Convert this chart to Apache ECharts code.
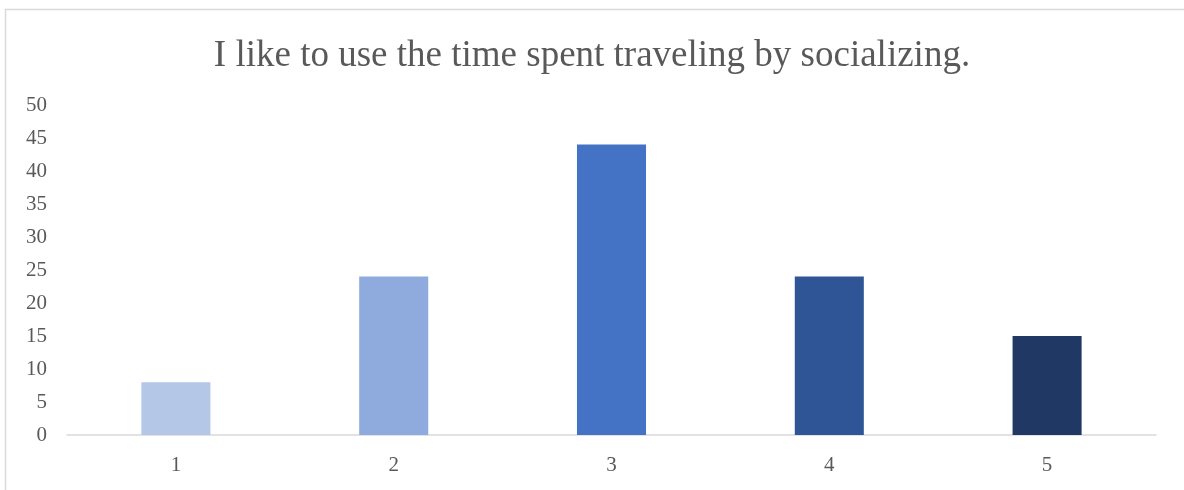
<!DOCTYPE html>
<html>
<head>
<meta charset="utf-8">
<style>
  html, body { margin: 0; padding: 0; background: #ffffff; }
  #chart { width: 1184px; height: 490px; }
</style>
<script src="https://cdn.jsdelivr.net/npm/echarts@6/dist/echarts.min.js"></script>
</head>
<body>
<div id="chart"></div>
<script>
// Survey responses on a 1–5 scale
const categories = ['1', '2', '3', '4', '5'];
const counts = [8, 24, 44, 24, 15];
const barColors = ['#B4C7E7', '#8FAADC', '#4472C4', '#2F5597', '#1F3864'];
const titleText = 'I like to use the time spent traveling by socializing.';

const chart = echarts.init(document.getElementById('chart'), null, { renderer: 'canvas' });

chart.setOption({
  animation: false,
  backgroundColor: '#ffffff',
  graphic: [{
    type: 'polyline',
    silent: true,
    shape: { points: [[5.5, 490], [5.5, 9.5], [1184, 9.5]] },
    style: { stroke: '#d9d9d9', lineWidth: 1.5, fill: null }
  }],
  title: {
    text: titleText,
    left: 'center',
    top: 33,
    textStyle: {
      fontFamily: 'Liberation Serif',
      fontSize: 37,
      fontWeight: 'normal',
      color: '#595959'
    }
  },
  grid: { left: 67, right: 28, top: 105, bottom: 55, containLabel: false },
  xAxis: {
    type: 'category',
    data: categories,
    axisLine: { lineStyle: { color: '#d9d9d9', width: 1.5 } },
    axisTick: { show: false },
    axisLabel: {
      fontFamily: 'Liberation Serif',
      fontSize: 21,
      color: '#595959',
      margin: 20
    }
  },
  yAxis: {
    type: 'value',
    min: 0,
    max: 50,
    interval: 5,
    axisLine: { show: false },
    axisTick: { show: false },
    splitLine: { show: false },
    axisLabel: {
      fontFamily: 'Liberation Serif',
      fontSize: 21,
      color: '#595959',
      margin: 20
    }
  },
  series: [{
    type: 'bar',
    data: counts.map((v, i) => ({ value: v, itemStyle: { color: barColors[i] } })),
    barWidth: '31.7%'
  }]
});
</script>
</body>
</html>
